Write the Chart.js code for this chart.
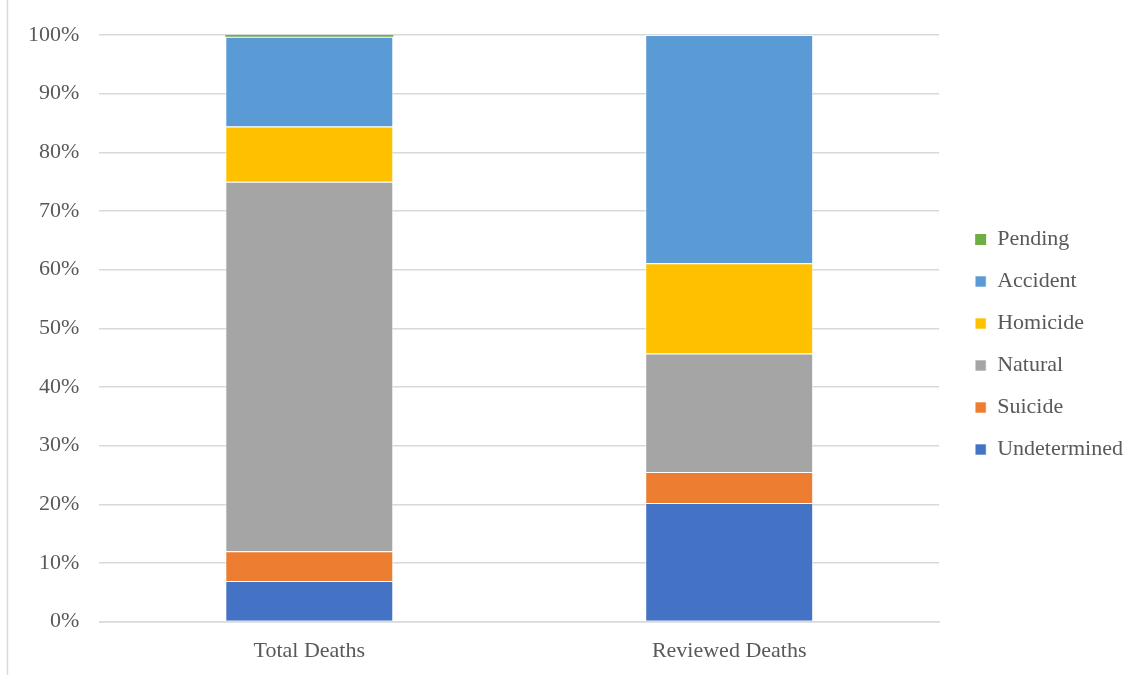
<!DOCTYPE html>
<html>
<head>
<meta charset="utf-8">
<script src="https://cdn.jsdelivr.net/npm/chart.js@4"></script>
<style>
  html, body { margin: 0; padding: 0; background: #fff; }
  #wrap { width: 1145px; height: 675px; position: relative; }
</style>
</head>
<body>
<div id="wrap"><canvas id="chart"></canvas></div>
<script>
const categories = ["Total Deaths", "Reviewed Deaths"];
const seriesNames = ["Undetermined", "Suicide", "Natural", "Homicide", "Accident", "Pending"];
const undetermined = [6.9, 20.2];
const suicide = [5.1, 5.3];
const natural = [63.0, 20.2];
const homicide = [9.4, 15.4];
const accident = [15.3, 38.9];
const pending = [0.3, 0];
const colors = ["#4472C4", "#ED7D31", "#A5A5A5", "#FFC000", "#5B9BD5", "#70AD47"];

const values = [undetermined, suicide, natural, homicide, accident, pending];
const serif = "'Liberation Serif', serif";

// thin frame line on the left, like the spreadsheet chart area
const frame = {
    id: "frame",
    afterLayout(chart){
        // legend sits a little above the middle in the original
        chart.legend.top -= 9;
        chart.legend.bottom -= 9;
    },
    beforeDraw(chart){
        const ctx = chart.ctx;
        ctx.save();
        ctx.strokeStyle = "#d9d9d9";
        ctx.lineWidth = 1.5;
        ctx.beginPath();
        ctx.moveTo(7.5, 0);
        ctx.lineTo(7.5, 675);
        ctx.stroke();
        ctx.restore();
    }
};

new Chart(document.getElementById("chart"), {
    type: "bar",
    data: {
        labels: categories,
        datasets: seriesNames.map((name, i) => ({
            label: name,
            data: values[i],
            backgroundColor: colors[i],
            borderColor: "rgba(255,255,255,0.6)",
            borderWidth: name === "Pending" ? 0 : 1,
            barPercentage: 0.4,
            categoryPercentage: 1
        }))
    },
    options: {
        responsive: true,
        maintainAspectRatio: false,
        animation: false,
        layout: { padding: { top: 35, left: 8, right: 12, bottom: 3 } },
        plugins: {
            legend: {
                position: "right",
                reverse: true,
                labels: {
                    boxWidth: 11,
                    boxHeight: 11,
                    padding: 20,
                    color: "#595959",
                    font: { family: serif, size: 22 }
                }
            },
            tooltip: { enabled: false }
        },
        scales: {
            x: {
                stacked: true,
                grid: { display: false },
                border: { color: "#d9d9d9", width: 1.5 },
                ticks: { color: "#595959", font: { family: serif, size: 22 }, padding: 8 }
            },
            y: {
                stacked: true,
                min: 0,
                max: 100,
                border: { display: false },
                grid: { color: "#d9d9d9", lineWidth: 1.5, drawTicks: false },
                ticks: {
                    stepSize: 10,
                    padding: 20,
                    color: "#595959",
                    font: { family: serif, size: 22 },
                    callback: (v) => v + "%"
                }
            },
            // empty spacer between plot and legend
            gap: {
                position: "right",
                display: true,
                grid: { display: false },
                border: { display: false },
                ticks: { display: false },
                afterFit: (s) => { s.width = 16; }
            }
        }
    },
    plugins: [frame]
});
</script>
</body>
</html>
